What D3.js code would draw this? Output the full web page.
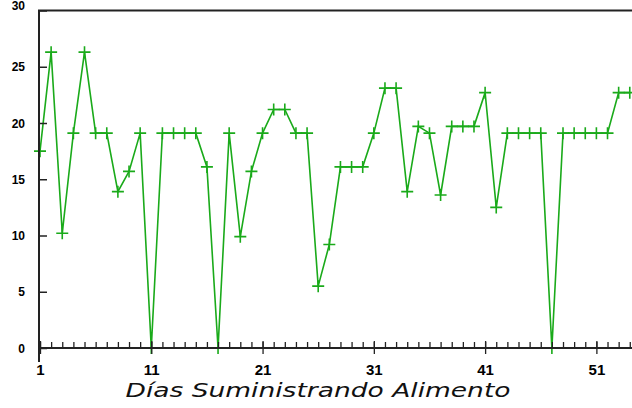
<!DOCTYPE html>
<html>
<head>
<meta charset="utf-8">
<script src="https://cdn.jsdelivr.net/npm/d3@7"></script>
<style>
  body { margin: 0; background: #fff; }
  svg { display: block; }
</style>
</head>
<body>
<div id="chart"></div>
<script>

// daily values, day 1 .. 54
const days = d3.range(1, 55);
const values = [
  17.5, 26.3, 10.2, 19.1, 26.3, 19.1, 19.1, 13.9, 15.7, 19.1,
  0,    19.1, 19.1, 19.1, 19.1, 16.1, 0,    19.1, 9.9,  15.7,
  19.1, 21.2, 21.2, 19.1, 19.1, 5.5,  9.2,  16.1, 16.1, 16.1,
  19.1, 23.1, 23.1, 13.9, 19.7, 19.1, 13.6, 19.7, 19.7, 19.7,
  22.7, 12.5, 19.1, 19.1, 19.1, 19.1, 0,    19.1, 19.1, 19.1,
  19.1, 19.1, 22.7, 22.7
];
const xTicks = [1, 11, 21, 31, 41, 51];
const yTicks = [0, 5, 10, 15, 20, 25, 30];
const xTitle = "Días Suministrando Alimento";

const W = 632, H = 408;
const green = "#1aaa1a", ink = "#222";

const x = d3.scaleLinear().domain([1, 54.2]).range([40, 632]);
const y = d3.scaleLinear().domain([0, 30]).range([348, 10.5]);

const svg = d3.select('#chart').append('svg')
  .attr('width', W)
  .attr('height', H);

// the line and its markers
const line = d3.line()
  .x((d, i) => x(days[i]))
  .y(d => y(d));

svg.append('path')
  .datum(values)
  .attr('fill', 'none')
  .attr('stroke', green)
  .attr('stroke-width', 1.6)
  .attr('d', line);

const marks = svg.append('g')
  .selectAll('g').data(values)
  .enter()
  .append('g')
    .attr('transform', (d, i) => `translate(${x(days[i])},${y(d)})`);

marks.append('path')
  .attr('d', 'M-6,0H6M0,-6V6')
  .attr('stroke', green)
  .attr('stroke-width', 1.6)
  .attr('fill', 'none');

// frame
svg.append('line')
  .attr('x1', x(1)).attr('x2', W)
  .attr('y1', y(30)).attr('y2', y(30))
  .attr('stroke', ink).attr('stroke-width', 2);

// x axis, minor ticks pointing up
svg.append('g')
  .attr('transform', `translate(0,${y(0)})`)
  .call(d3.axisBottom(x).tickValues(days).tickSize(-6).tickFormat(''))
  .call(g => g.select('.domain').remove())
  .call(g => g.selectAll('.tick line').attr('stroke', ink).attr('stroke-width', 1.3));

// x axis, major ticks across the line and labels
svg.append('g')
  .attr('transform', `translate(0,${y(0)})`)
  .call(d3.axisBottom(x).tickValues(xTicks).tickSize(6).tickPadding(10).tickFormat(d3.format('d')))
  .call(g => g.select('.domain').remove())
  .call(g => g.selectAll('.tick line').attr('y1', -7).attr('stroke', ink).attr('stroke-width', 1.3))
  .call(g => g.selectAll('.tick text')
    .attr('fill', '#000')
    .attr('font-family', 'Liberation Sans, Arial, sans-serif')
    .attr('font-weight', 'bold')
    .attr('font-size', 15));

svg.append('line')
  .attr('x1', x(1) - 1).attr('x2', W)
  .attr('y1', y(0)).attr('y2', y(0))
  .attr('stroke', ink).attr('stroke-width', 2.2);

// y axis
svg.append('g')
  .attr('transform', `translate(${x(1) - 1},0)`)
  .call(d3.axisLeft(y).tickValues(yTicks).tickSize(-8).tickPadding(14))
  .call(g => g.select('.domain').remove())
  .call(g => g.selectAll('.tick line').attr('stroke', ink).attr('stroke-width', 1.5))
  .call(g => g.selectAll('.tick text')
    .attr('fill', '#000')
    .attr('font-family', 'Liberation Sans, Arial, sans-serif')
    .attr('font-weight', 'bold')
    .attr('font-size', 12)
    .attr('dy', d => d === 30 ? '-0.12em' : '0.35em'));

svg.append('line')
  .attr('x1', x(1) - 1).attr('x2', x(1) - 1)
  .attr('y1', y(30) - 1).attr('y2', y(0) + 14)
  .attr('stroke', ink).attr('stroke-width', 2);

// title
svg.append('text')
  .attr('x', 318)
  .attr('y', 397)
  .attr('text-anchor', 'middle')
  .attr('font-family', 'DejaVu Sans, Verdana, sans-serif')
  .attr('font-style', 'italic')
  .attr('font-size', 20)
  .attr('textLength', 385)
  .attr('lengthAdjust', 'spacingAndGlyphs')
  .attr('fill', '#111')
  .text(xTitle);

</script>
</body>
</html>
